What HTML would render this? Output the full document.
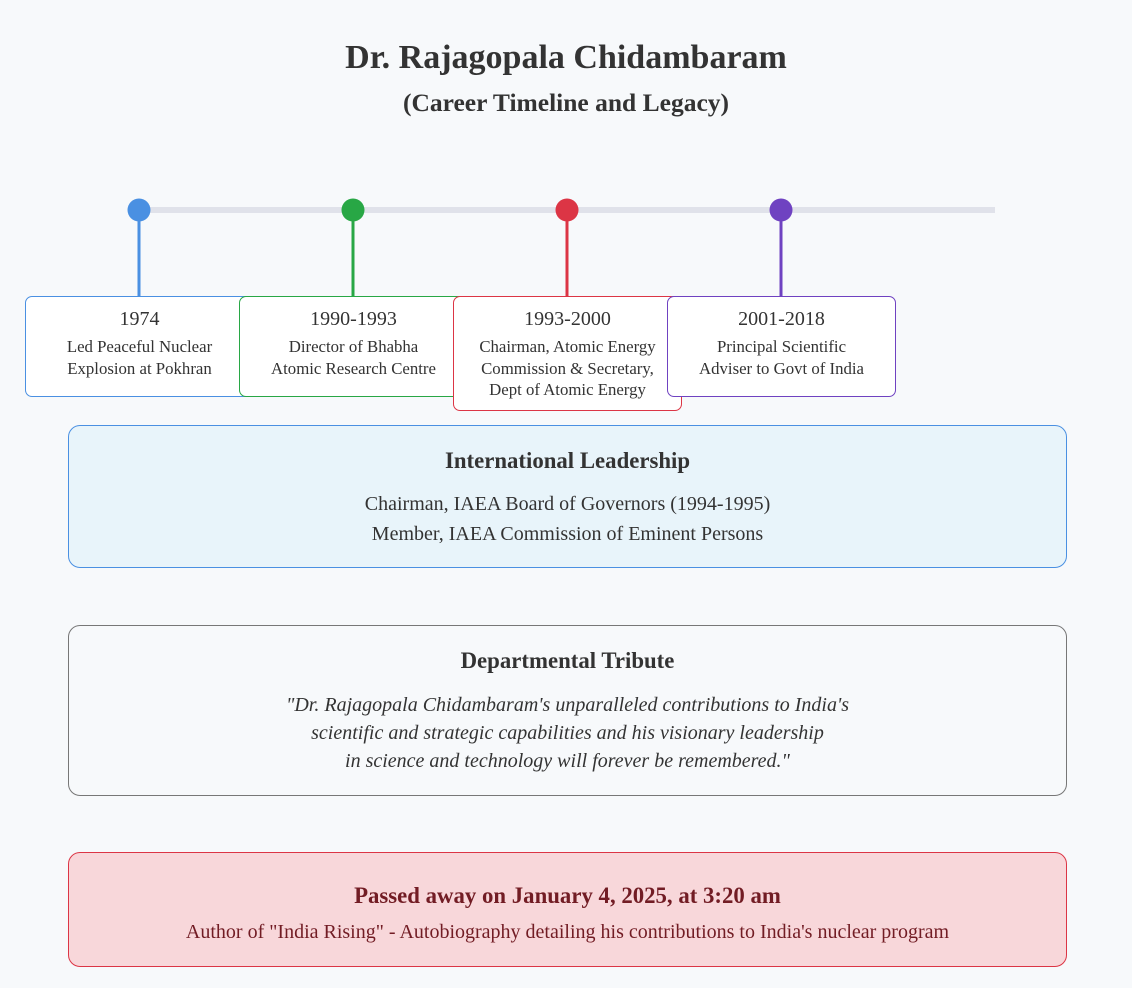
<!DOCTYPE html>
<html><head><meta charset="utf-8"><style>
*{margin:0;padding:0;box-sizing:border-box}
body{width:1132px;height:988px;background:#f7f9fb;font-family:"Liberation Serif",serif;color:#333;position:relative;overflow:hidden}
.abs{position:absolute}
.c{text-align:center}
.box{position:absolute;width:229px;background:#fff;border:1.6px solid;border-radius:7px;text-align:center;padding-top:10px}
.box .y{font-size:20px;line-height:24px;margin-bottom:5px}
.box .d{font-size:16.8px;line-height:21.5px}
.sec{position:absolute;left:68px;width:999px;border-radius:12px;border:1.5px solid;text-align:center}
</style></head><body>
<div class="abs c" style="left:0;width:1132px;top:38px;font-size:34px;font-weight:bold;line-height:40px">Dr. Rajagopala Chidambaram</div>
<div class="abs c" style="left:0;width:1132px;top:87px;font-size:25.5px;font-weight:bold;line-height:32px">(Career Timeline and Legacy)</div>
<svg class="abs" style="left:0;top:0" width="1132" height="300">
<line x1="139" y1="210" x2="995" y2="210" stroke="#e0e2ea" stroke-width="6"/>
<line x1="139" y1="210" x2="139" y2="297" stroke="#4a90e2" stroke-width="3"/>
<line x1="353" y1="210" x2="353" y2="297" stroke="#28a745" stroke-width="3"/>
<line x1="567" y1="210" x2="567" y2="297" stroke="#dc3545" stroke-width="3"/>
<line x1="781" y1="210" x2="781" y2="297" stroke="#6f42c1" stroke-width="3"/>
<circle cx="139" cy="210" r="11.5" fill="#4a90e2"/>
<circle cx="353" cy="210" r="11.5" fill="#28a745"/>
<circle cx="567" cy="210" r="11.5" fill="#dc3545"/>
<circle cx="781" cy="210" r="11.5" fill="#6f42c1"/>
</svg>
<div class="box" style="left:25px;top:296px;height:101px;border-color:#4a90e2"><div class="y">1974</div><div class="d">Led Peaceful Nuclear<br>Explosion at Pokhran</div></div>
<div class="box" style="left:239px;top:296px;height:101px;border-color:#28a745"><div class="y">1990-1993</div><div class="d">Director of Bhabha<br>Atomic Research Centre</div></div>
<div class="box" style="left:453px;top:296px;height:115px;border-color:#dc3545"><div class="y">1993-2000</div><div class="d">Chairman, Atomic Energy<br>Commission &amp; Secretary,<br>Dept of Atomic Energy</div></div>
<div class="box" style="left:667px;top:296px;height:101px;border-color:#6f42c1"><div class="y">2001-2018</div><div class="d">Principal Scientific<br>Adviser to Govt of India</div></div>
<div class="sec" style="top:425px;height:143px;background:#e8f4fa;border-color:#4a90e2">
<div style="margin-top:22px;font-size:22.8px;font-weight:bold;line-height:26px">International Leadership</div>
<div style="margin-top:15px;font-size:20px;line-height:30px">Chairman, IAEA Board of Governors (1994-1995)<br>Member, IAEA Commission of Eminent Persons</div>
</div>
<div class="sec" style="top:625px;height:171px;border-color:#777">
<div style="margin-top:22px;font-size:22.8px;font-weight:bold;line-height:26px">Departmental Tribute</div>
<div style="margin-top:17px;font-size:20px;font-style:italic;line-height:28px">"Dr. Rajagopala Chidambaram's unparalleled contributions to India's<br>scientific and strategic capabilities and his visionary leadership<br>in science and technology will forever be remembered."</div>
</div>
<div class="sec" style="top:852px;height:115px;background:#f8d7da;border-color:#dc3545;color:#721c24">
<div style="margin-top:30px;font-size:22.8px;font-weight:bold;line-height:26px">Passed away on January 4, 2025, at 3:20 am</div>
<div style="margin-top:12px;font-size:20px;line-height:22px">Author of "India Rising" - Autobiography detailing his contributions to India's nuclear program</div>
</div>
</body></html>
